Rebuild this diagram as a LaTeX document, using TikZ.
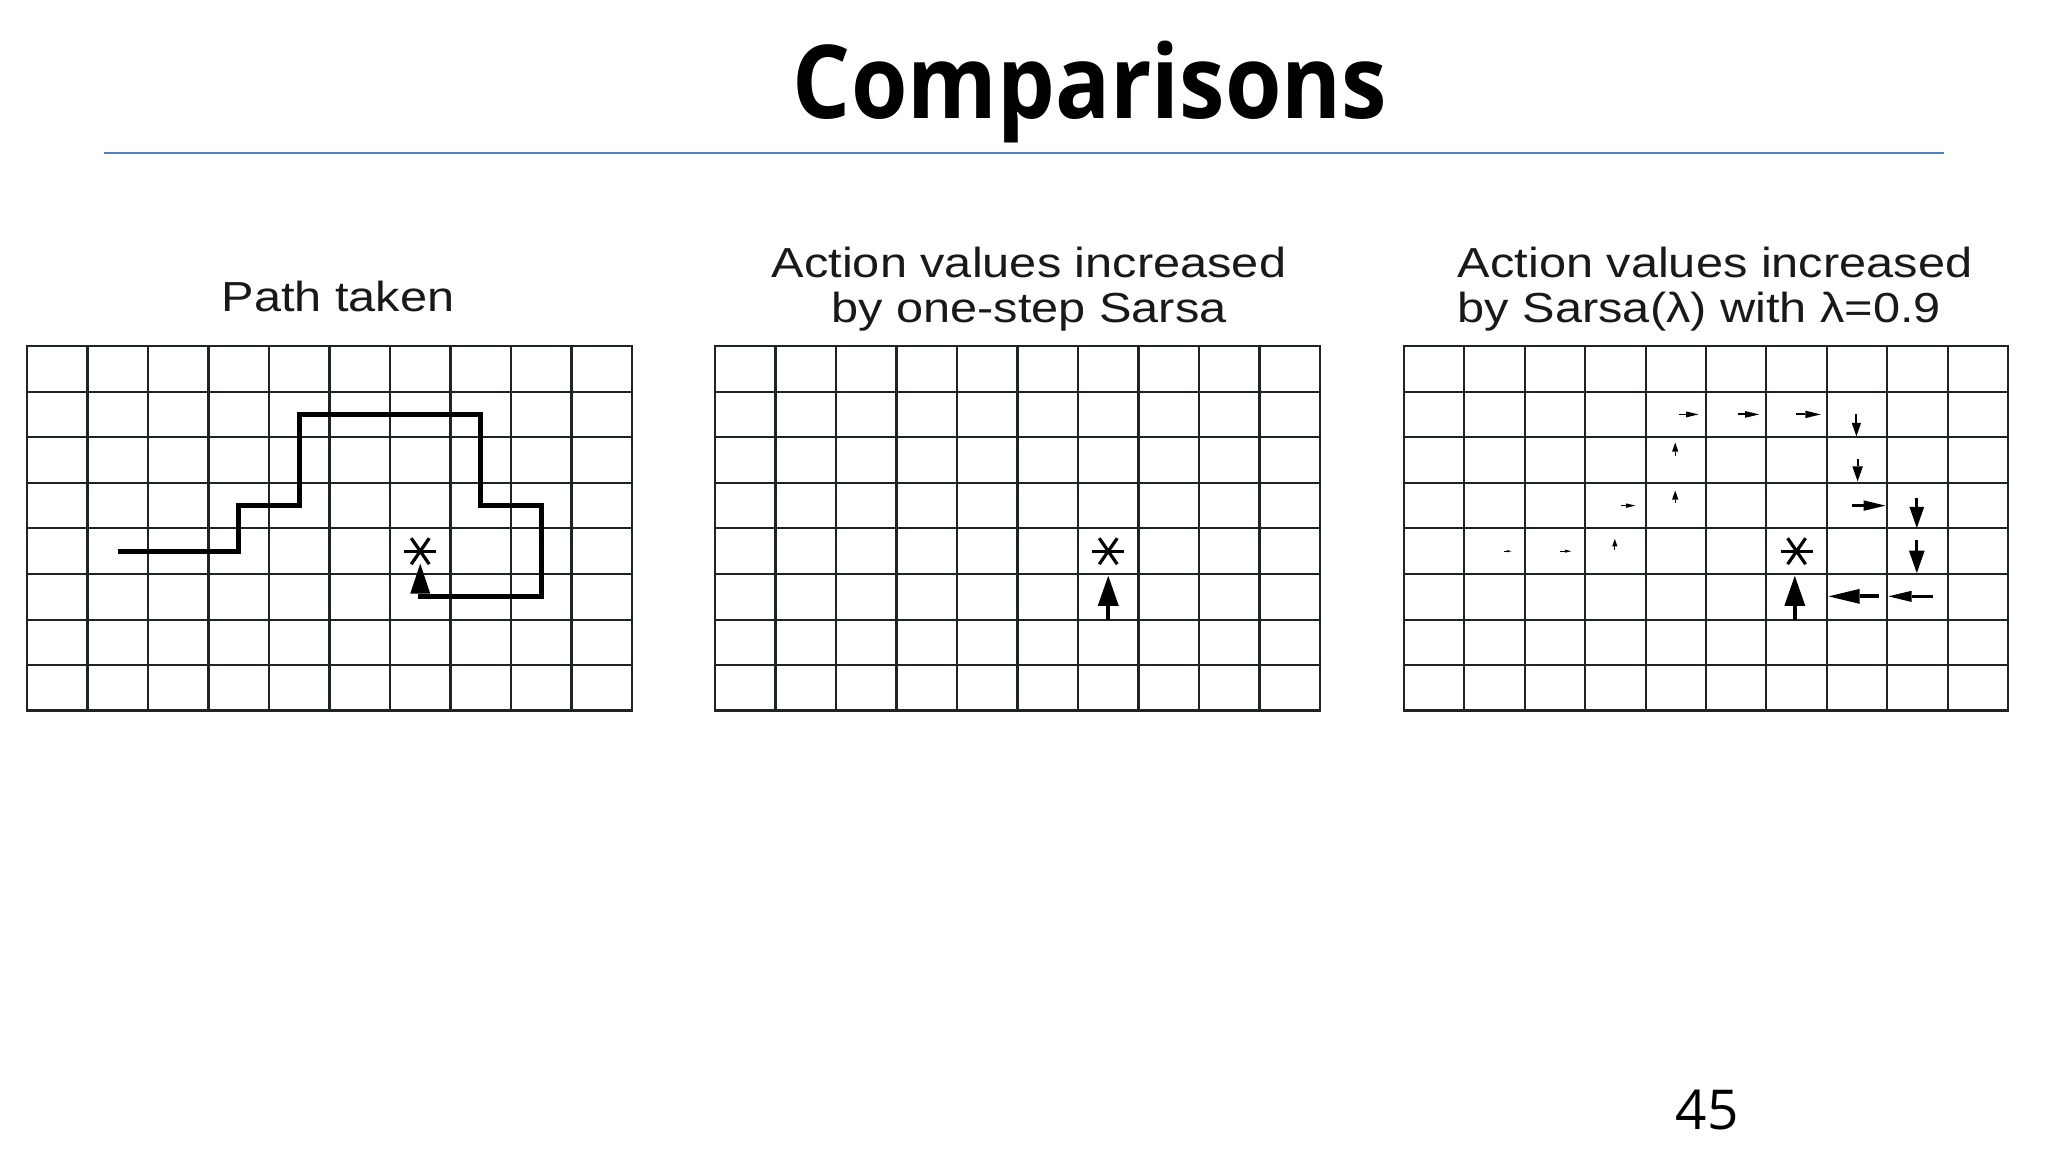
\documentclass[tikz,border=0pt]{standalone}
\usepackage{fontspec}
\usepackage{graphicx}
\usetikzlibrary{arrows.meta}
\newfontfamily\titlefont{Open Sans}
\newfontfamily\labelfont{Liberation Sans}
\definecolor{gridcol}{RGB}{28,36,36}
\definecolor{rulecol}{RGB}{84,130,190}
\tikzset{
  gridln/.style={draw=gridcol, line width=2.1pt},
  gridbox/.style={draw=gridcol, line width=2.8pt},
  pathln/.style={draw=black, line width=4.8pt, line join=miter},
  starln/.style={draw=black, line width=3.2pt},
  sub/.style={font=\labelfont\fontsize{42}{45.5}\selectfont, inner sep=0pt, text=black!90},
}
% horizontal arrow: x1, x2, y, scale
\newcommand{\harrow}[4]{%
  \pgfmathsetmacro\qlw{max(1.2,4.2*#4)}%
  \pgfmathsetmacro\qL{31*#4}%
  \pgfmathsetmacro\qW{15*#4}%
  \draw[line width=\qlw pt,-{Triangle[length=\qL pt,width=\qW pt,line width=0pt]}] (#1,#3) -- (#2,#3);}
% vertical arrow: x, y1, y2, scale
\newcommand{\varrow}[4]{%
  \pgfmathsetmacro\qlw{max(1.2,4.2*#4)}%
  \pgfmathsetmacro\qL{30*#4}%
  \pgfmathsetmacro\qW{21*#4}%
  \draw[line width=\qlw pt,-{Triangle[length=\qL pt,width=\qW pt,line width=0pt]}] (#1,#2) -- (#1,#3);}
\newcommand{\drawgrid}{%
  \foreach \i in {1,...,9} \draw[gridln] (\i,0) -- (\i,8);
  \foreach \j in {1,...,7} \draw[gridln] (0,\j) -- (10,\j);
  \draw[gridbox] (0,0) rectangle (10,8);}
\newcommand{\drawstar}[1]{%
  \draw[starln] ([shift={(-16pt,0pt)}]#1) -- ([shift={(16pt,0pt)}]#1);
  \draw[starln] ([shift={(-9pt,13pt)}]#1) -- ([shift={(9pt,-13pt)}]#1);
  \draw[starln] ([shift={(9pt,13pt)}]#1) -- ([shift={(-9pt,-13pt)}]#1);}

\begin{document}
\begin{tikzpicture}[x=1pt, y=-1pt]
\fill[white] (0,0) rectangle (2048,1152);
\useasboundingbox (0,0) rectangle (2048,1152);

% title and rule
\node[anchor=base, inner sep=0pt] (title) at (1090,118)
  {\resizebox{594pt}{\height}{\titlefont\bfseries\fontsize{102}{110}\selectfont Comparisons}};
\coordinate (ruleL) at (104,152.5);
\coordinate (ruleR) at (1943.5,152.5);
\draw[rulecol, line width=2pt] (ruleL) -- (ruleR);

% subtitles
\node[sub, anchor=base] (t1) at (338,311) {\scalebox{1.16}[1]{Path taken}};
\node[sub, anchor=base] (t2) at (1029,277)
  {\scalebox{1.16}[1]{\begin{tabular}[t]{@{}c@{}}Action values increased\\by one-step Sarsa\end{tabular}}};
\node[sub, anchor=base west] (t3) at (1457.6,277)
  {\scalebox{1.16}[1]{\begin{tabular}[t]{@{}l@{}}Action values increased\\by Sarsa(λ) with λ=0.9\end{tabular}}};

% grid 1: path taken
\begin{scope}[shift={(27,346)}, x=60.5pt, y=-45.6pt]
  \drawgrid
  \coordinate (s1) at (6.5,4.5);
  \draw[pathln, -{Triangle[length=30pt,width=20pt,line width=0pt]}]
    (1.5,4.5) -- (3.5,4.5) -- (3.5,3.5) -- (4.5,3.5) -- (4.5,1.5) -- (7.5,1.5)
    -- (7.5,3.5) -- (8.5,3.5) -- (8.5,5.5) -- (6.5,5.5) -- (6.5,4.77);
  \drawstar{s1}
\end{scope}

% grid 2: one-step Sarsa
\begin{scope}[shift={(715,346)}, x=60.5pt, y=-45.6pt]
  \drawgrid
  \coordinate (s2) at (6.5,4.5);
  \drawstar{s2}
  \varrow{6.5}{6.0}{5.04}{1}
\end{scope}

% grid 3: Sarsa(lambda)
\begin{scope}[shift={(1404,346)}, x=60.4pt, y=-45.6pt]
  \drawgrid
  \coordinate (s3) at (6.5,4.5);
  \drawstar{s3}
  \harrow{1.65}{1.78}{4.5}{0.15}
  \harrow{2.58}{2.77}{4.5}{0.2}
  \varrow{3.49}{4.47}{4.23}{0.25}
  \harrow{3.59}{3.83}{3.5}{0.3}
  \varrow{4.49}{3.44}{3.17}{0.3}
  \varrow{4.49}{2.42}{2.12}{0.3}
  \harrow{4.55}{4.875}{1.5}{0.4}
  \harrow{5.53}{5.88}{1.5}{0.45}
  \harrow{6.49}{6.90}{1.5}{0.5}
  \varrow{7.49}{1.50}{1.98}{0.45}
  \varrow{7.51}{2.48}{2.97}{0.5}
  \harrow{7.42}{7.97}{3.5}{0.7}
  \varrow{8.49}{3.33}{3.99}{0.7}
  \varrow{8.49}{4.25}{4.98}{0.75}
  \harrow{8.76}{8.02}{5.49}{0.75}
  \harrow{7.86}{7.03}{5.49}{1}
  \varrow{6.47}{6.0}{5.04}{1}
\end{scope}

% page number
\node[anchor=base, inner sep=0pt, font=\titlefont\fontsize{55}{60}\selectfont] (pnum) at (1707,1129) {45};
\end{tikzpicture}
\end{document}
